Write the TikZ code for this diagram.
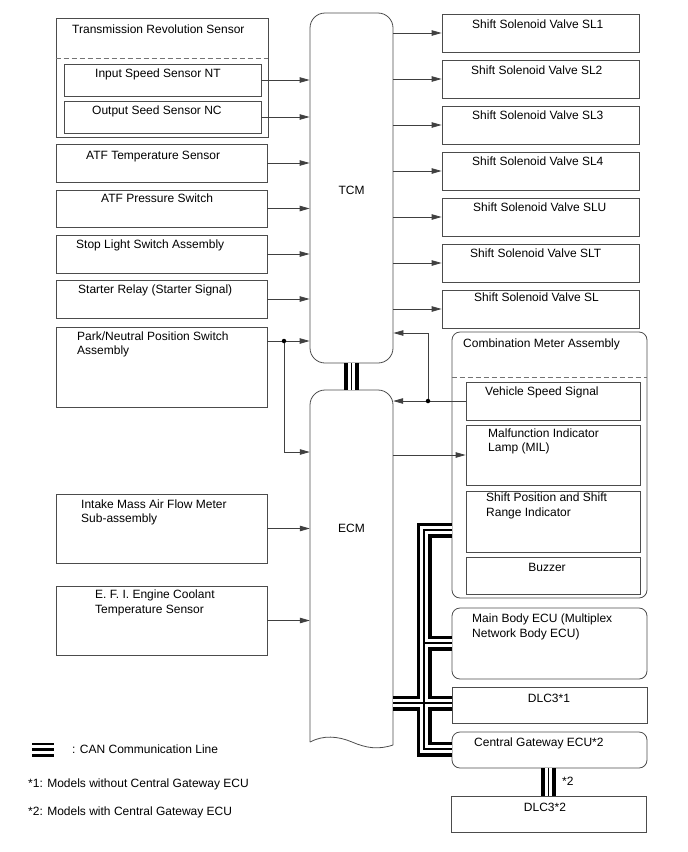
\documentclass[tikz,border=0pt]{standalone}
\usepackage{fontspec}
\setmainfont{Liberation Sans}
\usetikzlibrary{arrows.meta,fit}
\begin{document}
\begin{tikzpicture}[x=1pt,y=-1pt,
  font=\fontsize{12}{15}\selectfont,
  ln/.style={draw=black!70, line width=0.8pt},
  box/.style={ln, inner sep=0pt},
  rbox/.style={box, rounded corners=8pt},
  txt/.style={anchor=base west, inner sep=0pt},
  ctxt/.style={anchor=base, inner sep=0pt},
  arr/.style={draw=black!75, line width=0.8pt, -{Triangle[length=10pt,width=5.5pt]}},
  wire/.style={draw=black!75, line width=0.8pt},
  jdot/.style={circle, fill=black, inner sep=0pt, minimum size=4.5pt},
  dsh/.style={draw=black!55, line width=0.8pt, dash pattern=on 5pt off 3pt},
  canA/.style={line width=15pt, draw=black},
  canB/.style={line width=7.6pt, draw=white},
  canC/.style={line width=1.3pt, draw=black},
]
\useasboundingbox (0,0) rectangle (688,852);

% ---------- left column ----------
\node[box, fit={(56,18) (268,137)}] (trs) {};
\draw[dsh] (trs.west |- 0,58) -- (trs.east |- 0,58);
\node[txt] (trst) at (72,33.5) {Transmission Revolution Sensor};
\node[box, fit={(64,64) (261,96)}] (nt) {};
\node[txt] (ntt) at (95,77) {Input Speed Sensor NT};
\node[box, fit={(64,101) (261,133)}] (nc) {};
\node[txt] (nct) at (92,114) {Output Seed Sensor NC};

\node[box, fit={(56,144) (267,182)}] (atft) {};
\node[txt] (atftt) at (86,159) {ATF Temperature Sensor};
\node[box, fit={(56,190) (267,227)}] (atfp) {};
\node[txt] (atfpt) at (101,202) {ATF Pressure Switch};
\node[box, fit={(56,235) (267,273)}] (stop) {};
\node[txt] (stopt) at (76,248) {Stop Light Switch Assembly};
\node[box, fit={(56,280) (267,318)}] (start) {};
\node[txt] (startt) at (78,293) {Starter Relay (Starter Signal)};
\node[box, fit={(56,327) (267,407)}] (pn) {};
\node[txt] (pnt1) at (77,340) {Park/Neutral Position Switch};
\node[txt] (pnt2) at (77,354) {Assembly};
\node[box, fit={(56,494) (267,563)}] (maf) {};
\node[txt] (maft1) at (81,508) {Intake Mass Air Flow Meter};
\node[txt] (maft2) at (81,522) {Sub-assembly};
\node[box, fit={(56,586) (267,655)}] (efi) {};
\node[txt] (efit1) at (95,598) {E. F. I. Engine Coolant};
\node[txt] (efit2) at (95,613) {Temperature Sensor};

% ---------- TCM / ECM ----------
\node[box, rounded corners=15pt, fit={(310,13) (393,363)}] (tcm) {};
\node[ctxt] (tcmt) at (351.5,194.5) {TCM};
\node[inner sep=0pt, fit={(310,390) (393,745)}] (ecm) {};
\node[ctxt] (ecmt) at (351.5,532.5) {ECM};
\draw[ln, rounded corners=15pt] (310,742) -- (310,390) -- (393,390) -- (393,745);
\draw[ln] (393,745) .. controls (378,750) and (366,748) .. (352,742)
          .. controls (338,736) and (323,735) .. (310,742);

% ---------- right column ----------
\node[box, fit={(442,14) (639,52)}] (sl1) {};
\node[txt] at (472,28.5) {Shift Solenoid Valve SL1};
\node[box, fit={(442,60) (639,98)}] (sl2) {};
\node[txt] at (471,74.5) {Shift Solenoid Valve SL2};
\node[box, fit={(442,106) (639,144)}] (sl3) {};
\node[txt] at (472,119.5) {Shift Solenoid Valve SL3};
\node[box, fit={(442,152) (639,190)}] (sl4) {};
\node[txt] at (472,165.5) {Shift Solenoid Valve SL4};
\node[box, fit={(442,198) (639,236)}] (slu) {};
\node[txt] at (473,211.5) {Shift Solenoid Valve SLU};
\node[box, fit={(442,244) (639,282)}] (slt) {};
\node[txt] at (470,257.5) {Shift Solenoid Valve SLT};
\node[box, fit={(442,290) (639,328)}] (sl) {};
\node[txt] at (474,301.5) {Shift Solenoid Valve SL};

\node[rbox, fit={(452,332) (647,598)}] (cma) {};
\draw[dsh] (cma.west |- 0,377) -- (cma.east |- 0,377);
\node[txt] (cmat) at (463,347) {Combination Meter Assembly};
\node[box, fit={(466,382) (640,420)}] (vss) {};
\node[txt] (vsst) at (485,395) {Vehicle Speed Signal};
\node[box, fit={(466,425) (640,485)}] (mil) {};
\node[txt] (milt1) at (488,437) {Malfunction Indicator};
\node[txt] (milt2) at (488,451) {Lamp (MIL)};
\node[box, fit={(466,491) (640,552)}] (spi) {};
\node[txt] (spit1) at (486,501) {Shift Position and Shift};
\node[txt] (spit2) at (486,516) {Range Indicator};
\node[box, fit={(466,557) (640,594)}] (buz) {};
\node[ctxt] (buzt) at (547,571) {Buzzer};

\node[rbox, fit={(452,608) (647,679)}] (mbe) {};
\node[txt] (mbet1) at (472,622) {Main Body ECU (Multiplex};
\node[txt] (mbet2) at (472,637) {Network Body ECU)};
\node[box, fit={(452,687) (647,723)}] (dlc1) {};
\node[ctxt] (dlc1t) at (549,702) {DLC3*1};
\node[rbox, fit={(452,732) (647,768)}] (cge) {};
\node[txt] (cget) at (474,746) {Central Gateway ECU*2};
\node[box, fit={(451,796) (646,832)}] (dlc2) {};
\node[ctxt] (dlc2t) at (545,811) {DLC3*2};
\node[txt] (star2) at (562,785) {*2};

% ---------- signal connectors ----------
\foreach \b in {nt,nc,atft,atfp,stop,start}
  \draw[arr] (\b.east) -- (\b.east -| tcm.west);
\foreach \b in {maf,efi}
  \draw[arr] (\b.east) -- (\b.east -| ecm.west);
\foreach \b in {sl1,sl2,sl3,sl4,slu,slt,sl}
  \draw[arr] (\b.west -| tcm.east) -- (\b.west);

\coordinate (pj) at (284,341);
\coordinate (pb) at (284,452);
\draw[wire] (pn.east |- pj) -- (pj);
\draw[arr] (pj) -- (pj -| tcm.west);
\draw[arr] (pj) -- (pb) -- (pb -| ecm.west);
\node[jdot] at (pj) {};

\coordinate (vj) at (428,401);
\coordinate (vt) at (428,333);
\draw[wire] (vss.west) -- (vj);
\draw[arr] (vj) -- (vj -| ecm.east);
\draw[arr] (vj) -- (vt) -- (vt -| tcm.east);
\node[jdot] at (vj) {};

\draw[arr] (mil.west -| ecm.east) -- (mil.west);

% ---------- CAN lines ----------
\coordinate (bt) at (424,530);
\coordinate (bb) at (424,749);
\coordinate (bm) at (424,643);
\coordinate (bj) at (424,703);
\foreach \s in {canA,canB,canC}{
  \draw[\s] (tcm.south) -- (ecm.north);
  \draw[\s] (bt -| cma.west) -- (bt) -- (bb) -- (bb -| cge.west);
  \draw[\s] (bm) -- (bm -| mbe.west);
  \draw[\s] (bj -| ecm.east) -- (bj -| dlc1.west);
  \draw[\s] (cge.south -| dlc2.north) -- (dlc2.north);
}

% ---------- legend ----------
\draw[line width=2.7pt] (32,744) -- (54,744);
\draw[line width=2.4pt] (32,749.5) -- (54,749.5);
\draw[line width=2.7pt] (32,755.4) -- (54,755.4);
\node[txt] (lg1) at (72,753) {: CAN Communication Line};
\node[txt] (lg2) at (28,787) {*1: Models without Central Gateway ECU};
\node[txt] (lg3) at (28,815) {*2: Models with Central Gateway ECU};
\end{tikzpicture}
\end{document}
